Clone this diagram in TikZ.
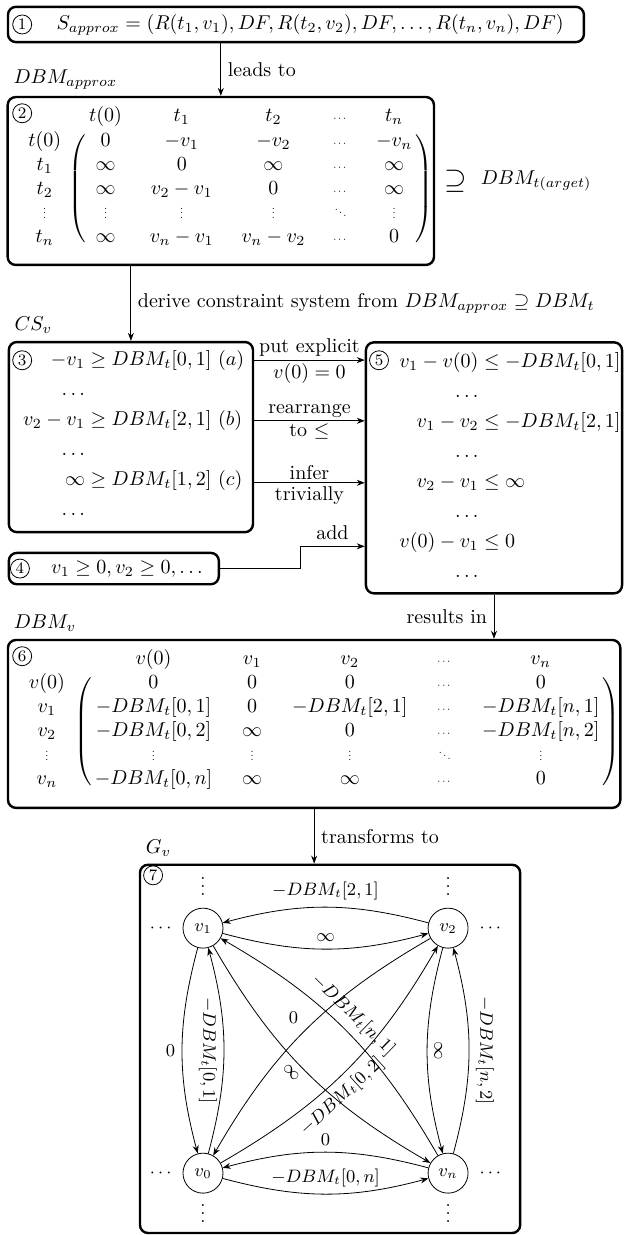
\documentclass[tikz,border=0pt]{standalone}
\usepackage{amsmath}
\usepackage{graphicx}
\usepackage{tikz}
\usetikzlibrary{arrows.meta, positioning, fit, matrix}

\newcommand{\tdots}{\scalebox{0.55}{$\cdots$}}
\newcommand{\tvdots}{\smash{\scalebox{0.55}{$\vdots$}}}
\newcommand{\tddots}{\smash{\scalebox{0.55}{$\ddots$}}}

\begin{document}
\begin{tikzpicture}[
    box/.style={draw, very thick, rounded corners=4pt},
    num/.style={circle, draw, minimum size=9.5pt, inner sep=0pt, font=\footnotesize},
    arrow/.style={-{Stealth[length=4pt, width=3pt]}},
    link/.style={-{Stealth[length=4pt, width=3pt]}, bend right=15},
    vert/.style={circle, draw, minimum size=20pt, inner sep=0pt, font=\small},
    lbl/.style={font=\small},
    side/.style={inner sep=1.5pt},
    title/.style={anchor=south west},
    dbm/.style={matrix of math nodes, column sep=14pt, row sep=2pt,
      nodes={inner sep=0pt, text height=7.5pt, text depth=2.5pt}},
    paren/.style={inner sep=0pt, left delimiter=(, right delimiter=)}
  ]
  \useasboundingbox (0,0) rectangle (10.98,-21.70);

  \node[box, minimum width=10.12cm, minimum height=0.62cm] (b1) at (5.20,-0.43) {};
  \node[box, minimum width=7.49cm, minimum height=2.95cm] (b2) at (3.88,-3.18) {};
  \node[box, minimum width=4.29cm, minimum height=3.34cm] (b3) at (2.30,-7.68) {};
  \node[box, minimum width=3.69cm, minimum height=0.55cm] (b4) at (2.00,-9.99) {};
  \node[box, minimum width=4.50cm, minimum height=4.41cm] (b5) at (8.68,-8.22) {};
  \node[box, minimum width=10.76cm, minimum height=2.95cm] (b6) at (5.52,-12.72) {};
  \node[box, minimum width=6.68cm, minimum height=6.47cm] (b7) at (5.80,-18.43) {};

  \foreach \i/\x/\y in {1/0.39/-0.43, 2/0.39/-1.99, 3/0.39/-6.33, 4/0.35/-9.99,
                        5/6.66/-6.33, 6/0.39/-11.53, 7/2.69/-15.38}
    \node[num] (n\i) at (\x,\y) {\i};

  \node[title] (t2) at (b2.north west) {$DBM_{approx}$};
  \node[title] (t3) at (b3.north west) {$CS_v$};
  \node[title] (t6) at (b6.north west) {$DBM_v$};
  \node[title] (t7) at (b7.north west) {$G_v$};

  \node (s1) at (5.45,-0.43) {$S_{approx} = (R(t_1,v_1), DF, R(t_2,v_2), DF, \dots, R(t_n,v_n), DF)$};

  \matrix (m2) [dbm] at (3.87,-3.11) {
            & t(0)    & t_1       & t_2       & \tdots  & t_n     \\
    t(0)    & 0       & -v_1      & -v_2      & \tdots  & -v_n    \\
    t_1     & \infty  & 0         & \infty    & \tdots  & \infty  \\
    t_2     & \infty  & v_2 - v_1 & 0         & \tdots  & \infty  \\
    \tvdots & \tvdots & \tvdots   & \tvdots   & \tddots & \tvdots \\
    t_n     & \infty  & v_n - v_1 & v_n - v_2 & \tdots  & 0       \\
  };
  \node[paren, fit=(m2-1-2.west |- m2-2-2.north)(m2-2-6.east |- m2-6-6.south)] (p2) {};
  \node[font=\Large, right=1pt of b2] (sup) {$\supseteq$};
  \node[right=0pt of sup] (tgt) {$DBM_{t(arget)}$};

  \node (c3) at (2.35,-7.66) {$\begin{aligned}
      -v_1 &\geq DBM_t[0,1]\ (a)\\
      \dots &\\
      v_2 - v_1 &\geq DBM_t[2,1]\ (b)\\
      \dots &\\
      \infty &\geq DBM_t[1,2]\ (c)\\
      \dots &
    \end{aligned}$};
  \node (c4) at (2.26,-9.99) {$v_1 \geq 0, v_2 \geq 0, \dots$};
  \node (c5) at (8.96,-8.21) {$\begin{aligned}
      v_1 - v(0) &\leq -DBM_t[0,1]\\
      \dots &\\
      v_1 - v_2 &\leq -DBM_t[2,1]\\
      \dots &\\
      v_2 - v_1 &\leq \infty\\
      \dots &\\
      v(0) - v_1 &\leq 0\\
      \dots &
    \end{aligned}$};

  \matrix (m6) [dbm, column sep=15pt] at (5.52,-12.65) {
            & v(0)        & v_1     & v_2         & \tdots  & v_n         \\
    v(0)    & 0           & 0       & 0           & \tdots  & 0           \\
    v_1     & -DBM_t[0,1] & 0       & -DBM_t[2,1] & \tdots  & -DBM_t[n,1] \\
    v_2     & -DBM_t[0,2] & \infty  & 0           & \tdots  & -DBM_t[n,2] \\
    \tvdots & \tvdots     & \tvdots & \tvdots     & \tddots & \tvdots     \\
    v_n     & -DBM_t[0,n] & \infty  & \infty      & \tdots  & 0           \\
  };
  \node[paren, fit=(m6-6-2.west |- m6-2-2.north)(m6-3-6.east |- m6-6-6.south)] (p6) {};

  \draw[arrow] (b1.south -| b2.north) -- node[right] {leads to} (b2.north);
  \draw[arrow] (b2.south -| b3.north) -- node[right] {derive constraint system from $DBM_{approx} \supseteq DBM_t$} (b3.north);
  \coordinate (ra) at ([yshift=1.353cm]b3.east);
  \coordinate (rb) at ([yshift=0.286cm]b3.east);
  \coordinate (rc) at ([yshift=-0.803cm]b3.east);
  \coordinate (rd) at ([yshift=-1.379cm]b5.west);
  \draw[arrow] (ra) -- node[side, above] {put explicit} node[side, below] {$v(0) = 0$} (ra -| b5.west);
  \draw[arrow] (rb) -- node[side, above] {rearrange} node[side, below] {to $\leq$} (rb -| b5.west);
  \draw[arrow] (rc) -- node[side, above] {infer} node[side, below] {trivially} (rc -| b5.west);
  \draw[arrow] (b4.east) -- ++(1.406,0) |- node[pos=0.75, above] {add} (rd);
  \draw[arrow] (b5.south) -- node[left] {results in} (b5.south |- b6.north);
  \draw[arrow] (b6.south) -- node[right] {transforms to} (b6.south |- b7.north);

  \foreach \s/\x/\y in {1/3.567/-16.308, 2/7.873/-16.308, 0/3.567/-20.613, n/7.873/-20.613}
    \node[vert] (v\s) at (\x,\y) {$v_\s$};
  \foreach \s in {1,0}
    \node[lbl, left=0.5pt of v\s] (h\s) {$\cdots$};
  \foreach \s in {2,n}
    \node[lbl, right=2pt of v\s] (h\s) {$\cdots$};
  \foreach \s in {1,2}
    \node[lbl, above=2.5pt of v\s] (e\s) {$\vdots$};
  \foreach \s in {0,n}
    \node[lbl, below=-4pt of v\s] (e\s) {$\vdots$};

  \draw[link] (v1) to node[lbl, above] {$\infty$} (v2);
  \draw[link] (v2) to node[lbl, above] {$-DBM_t[2,1]$} (v1);
  \draw[link] (vn) to node[lbl, above] {$0$} (v0);
  \draw[link] (v0) to node[lbl, above] {$-DBM_t[0,n]$} (vn);
  \draw[link] (v1) to node[lbl, left] {$0$} (v0);
  \draw[link] (v0) to node[lbl, rotate=-90, anchor=north] {$-DBM_t[0,1]$} (v1);
  \draw[link] (v2) to node[lbl, rotate=-90, anchor=south] {$\infty$} (vn);
  \draw[link] (vn) to node[lbl, rotate=-90, anchor=south] {$-DBM_t[n,2]$} (v2);
  \draw[link] (v2) to node[lbl, above left] {$0$} (v0);
  \draw[link] (v0) to node[lbl, sloped, below, pos=0.43] {$-DBM_t[0,2]$} (v2);
  \draw[link] (v1) to node[lbl, sloped, below, pos=0.47] {$\infty$} (vn);
  \draw[link] (vn) to node[lbl, sloped, above, pos=0.52] {$-DBM_t[n,1]$} (v1);
\end{tikzpicture}
\end{document}
